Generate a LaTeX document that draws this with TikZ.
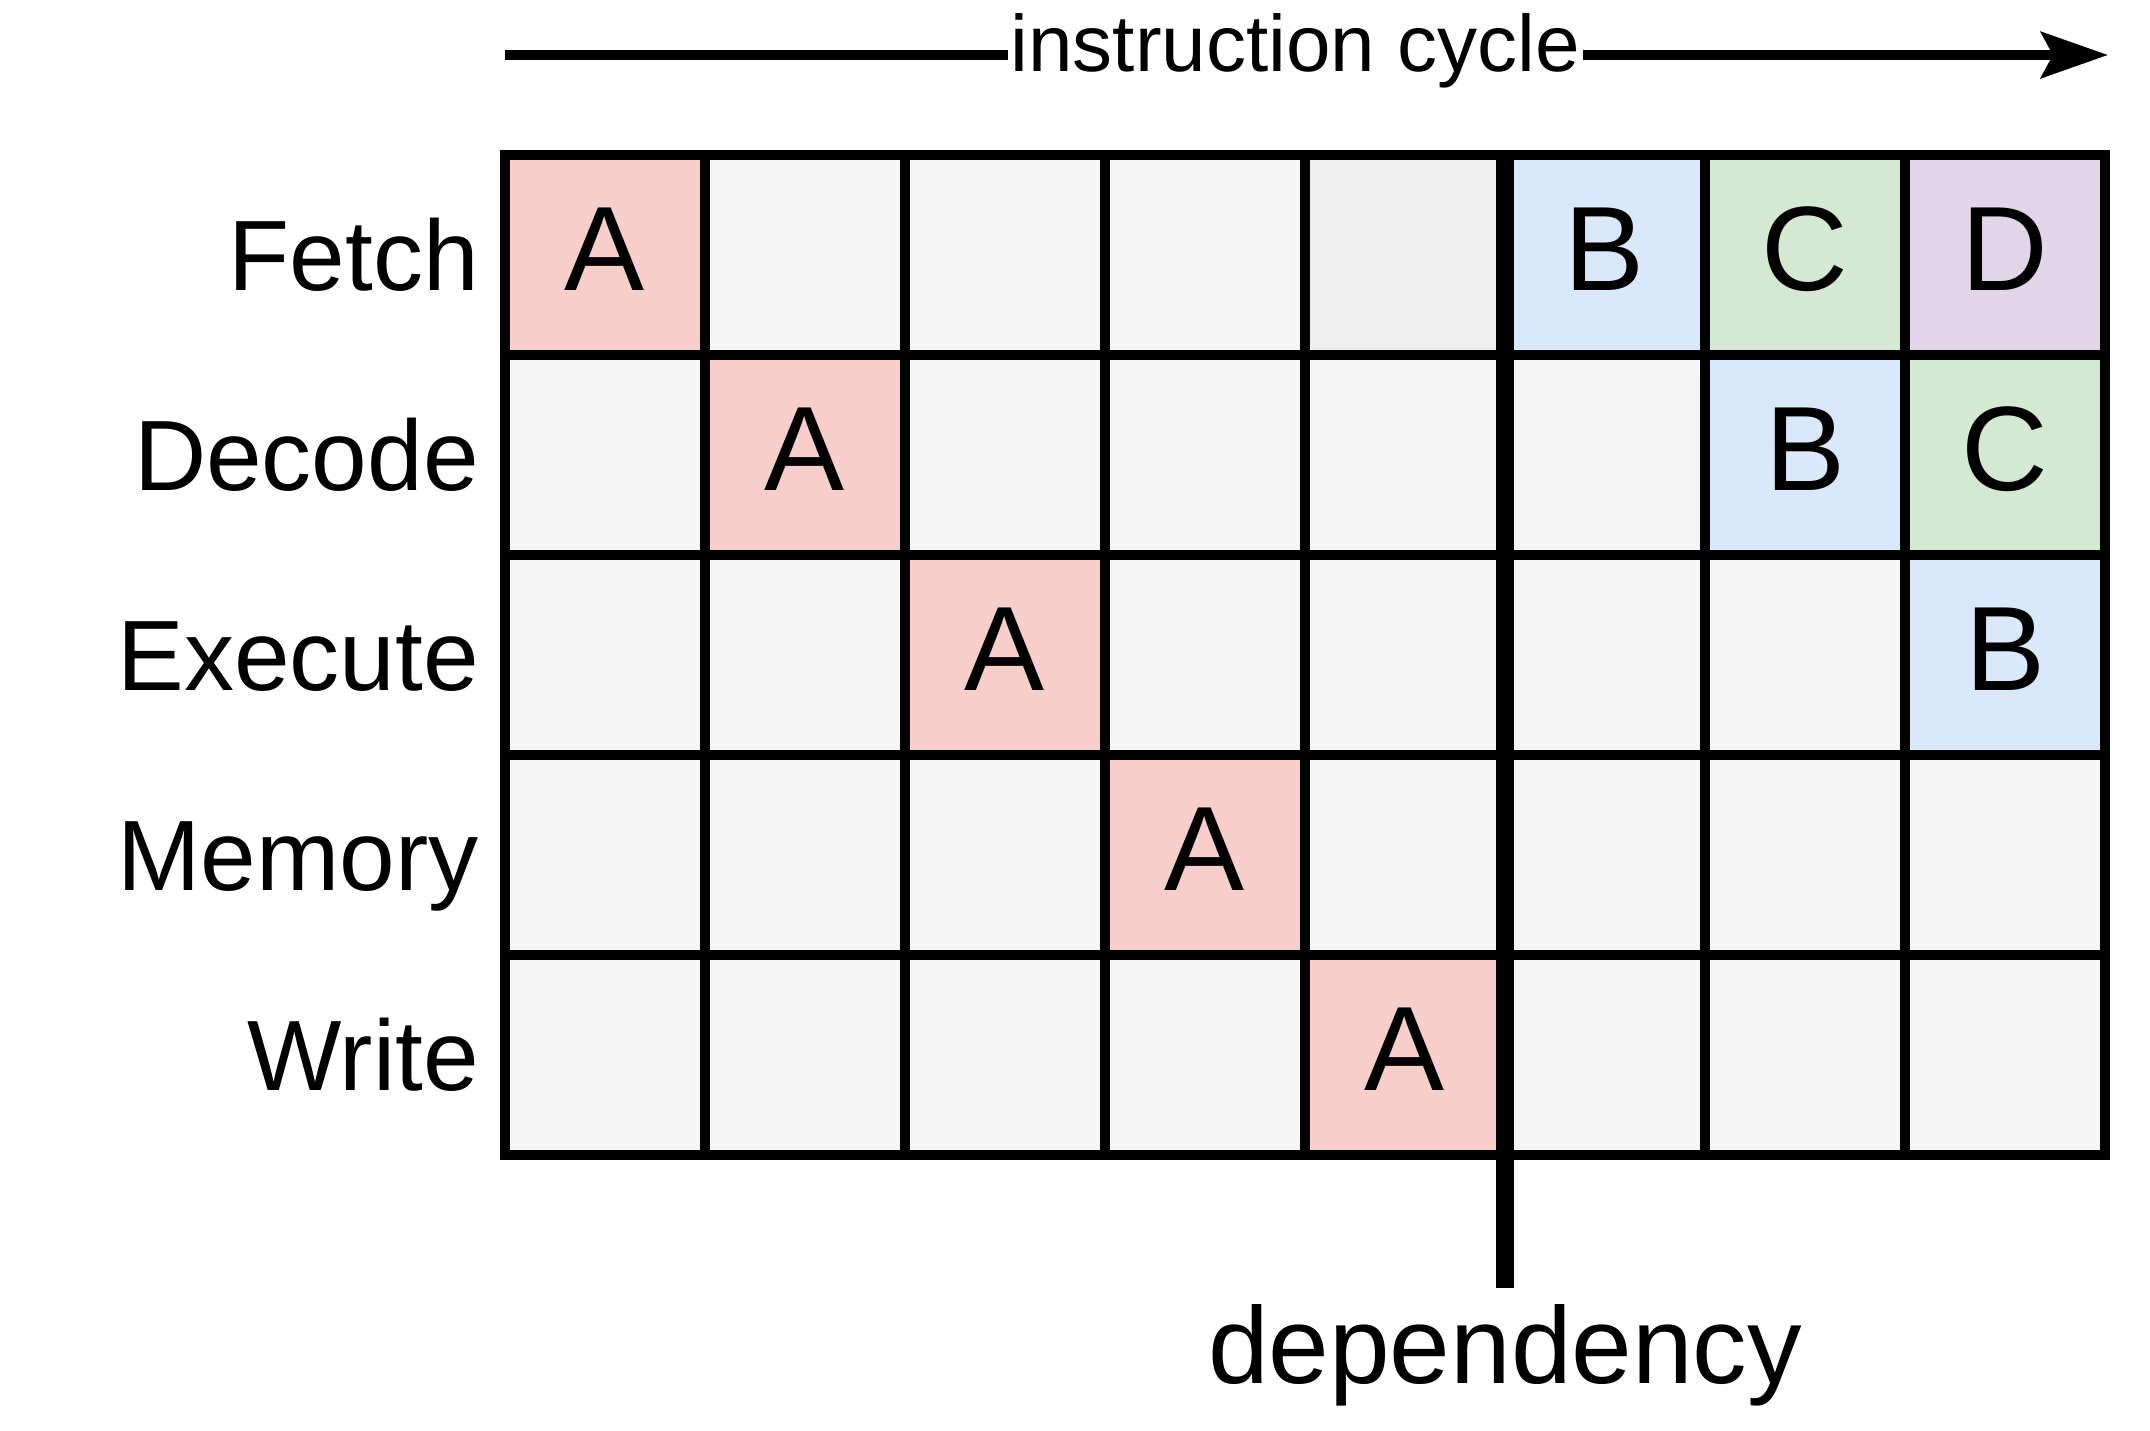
\documentclass[tikz,border=0pt]{standalone}
\usepackage{fontspec}
\setmainfont{Liberation Sans}
\usetikzlibrary{arrows.meta}
\definecolor{cpink}{HTML}{F8CECC}
\definecolor{cblue}{HTML}{DAE8FC}
\definecolor{cgreen}{HTML}{D5E8D4}
\definecolor{cpurple}{HTML}{E1D5E7}
\definecolor{cgray}{HTML}{F5F5F5}
\definecolor{cdgray}{HTML}{EEEEEE}
\begin{document}
\begin{tikzpicture}[x=1pt,y=-1pt,
  cell/.style={draw=black, line width=10pt, minimum width=200pt, minimum height=200pt,
    inner sep=0pt, outer sep=0pt, text height=86pt, text depth=16pt,
    font=\fontsize{120}{140}\selectfont},
  rowlabel/.style={anchor=base east, inner sep=0pt, font=\fontsize{100}{120}\selectfont},
  toplabel/.style={fill=white, inner xsep=3pt, inner ysep=0pt, font=\fontsize{80}{96}\selectfont},
  deplabel/.style={anchor=base, inner sep=0pt, font=\fontsize{109}{130}\selectfont}]
\useasboundingbox (0,0) rectangle (2150,1430);

% grid cells
\foreach \c/\f/\t in {0/cpink/A,1/cgray/{},2/cgray/{},3/cgray/{},4/cdgray/{},5/cblue/B,6/cgreen/C,7/cpurple/D}
  \node[cell,fill=\f] (r0c\c) at ({605+200*\c},255) {\t};
\foreach \c/\f/\t in {0/cgray/{},1/cpink/A,2/cgray/{},3/cgray/{},4/cgray/{},5/cgray/{},6/cblue/B,7/cgreen/C}
  \node[cell,fill=\f] (r1c\c) at ({605+200*\c},455) {\t};
\foreach \c/\f/\t in {0/cgray/{},1/cgray/{},2/cpink/A,3/cgray/{},4/cgray/{},5/cgray/{},6/cgray/{},7/cblue/B}
  \node[cell,fill=\f] (r2c\c) at ({605+200*\c},655) {\t};
\foreach \c/\f/\t in {0/cgray/{},1/cgray/{},2/cgray/{},3/cpink/A,4/cgray/{},5/cgray/{},6/cgray/{},7/cgray/{}}
  \node[cell,fill=\f] (r3c\c) at ({605+200*\c},855) {\t};
\foreach \c/\f/\t in {0/cgray/{},1/cgray/{},2/cgray/{},3/cgray/{},4/cpink/A,5/cgray/{},6/cgray/{},7/cgray/{}}
  \node[cell,fill=\f] (r4c\c) at ({605+200*\c},1055) {\t};

% row labels
\node[rowlabel] (lfetch) at (479,290) {Fetch};
\node[rowlabel] (ldecode) at (479,490) {Decode};
\node[rowlabel] (lexecute) at (479,690) {Execute};
\node[rowlabel] (lmemory) at (479,890) {Memory};
\node[rowlabel] (lwrite) at (479,1090) {Write};

% dependency line
\coordinate (dtop) at (1505,150);
\coordinate (dbot) at (1505,1288);
\draw[line width=18pt] (dtop) -- (dbot);
\node[deplabel] (dep) at (1505,1383) {dependency};

% instruction cycle arrow
\coordinate (astart) at (505,55);
\coordinate (aend) at (2108,55);
\draw[line width=10pt, -{Stealth[length=67pt, width=46pt, inset=12pt]}]
  (astart) -- node[toplabel, pos=0.493, yshift=4pt] (cyc) {instruction cycle} (aend);
\end{tikzpicture}
\end{document}
